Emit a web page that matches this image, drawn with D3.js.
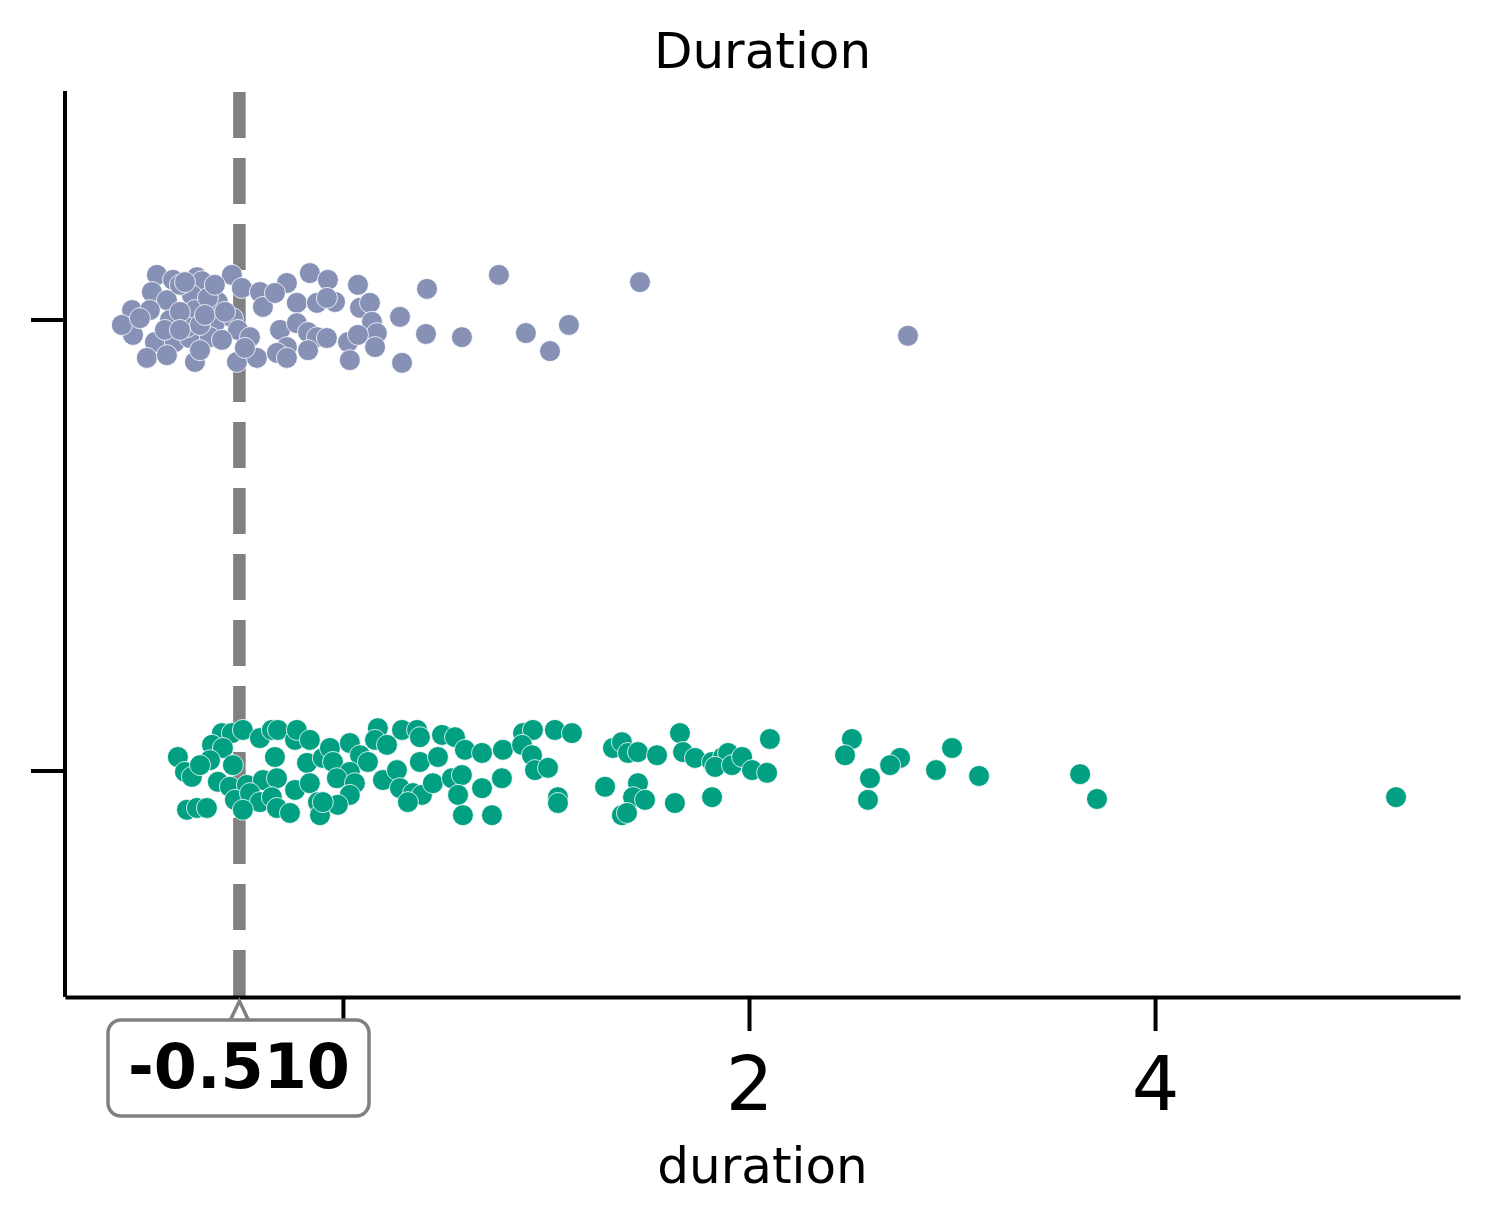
<!DOCTYPE html>
<html>
<head>
<meta charset="utf-8">
<script src="https://cdn.jsdelivr.net/npm/d3@7"></script>
<style>
  body { margin: 0; background: #fff; }
  svg { font-family: "DejaVu Sans", sans-serif; }
</style>
</head>
<body>
<script>
// categories on the y axis (no tick labels in the original)
const categories = ["A", "B"]
const colors = ["#8791b6", "#02a082"]

// group A: duration + vertical jitter (in category units)
const durationA = [
  -0.916, -0.837, -0.719, -0.695, -0.547, -0.941, -0.867, -0.744, -0.616, -0.498, -0.409, -0.394,
  -1.039, -0.951, -0.852, -0.729, -0.631, -0.542, -1.064, -1.034, -0.926, -0.828,
  -0.754, -0.655, -0.517, -0.458, -0.966, -0.867, -0.729, -0.522, -0.424, -0.768,
  -0.163, -0.074, 0.074, -0.276, -0.335, -0.227, -0.128, -0.039, -0.079, 0.084,
  0.133, 0.281, 0.143, -0.310, -0.227, -0.172, -0.128, -0.079, 0.167, 0.025,
  0.074, 0.158, -0.276, -0.325, -0.172, 0.034, 0.291, -0.276,
  0.414, 0.768, 1.463, 0.409, 0.586, 0.901, 1.113, 1.020, 2.783,
  -1.089, -0.877, -0.704, -0.596, -0.803, -0.665, -0.803,
  -1.000, -0.680, -0.778, -0.631, -0.581, -0.483, -0.803, -0.704
]
const jitterA = [
  -0.100, -0.089, -0.095, -0.086, -0.100, -0.062, -0.044, -0.055, -0.040, -0.071, -0.062, -0.029,
  -0.022, -0.022, 0.000, -0.022, 0.007, -0.004, 0.016, 0.033, 0.049, 0.049,
  0.040, 0.038, 0.022, 0.038, 0.084, 0.078, 0.093, 0.093, 0.084, 0.016,
  -0.104, -0.089, -0.078, -0.082, -0.060, -0.038, -0.038, -0.040, -0.049, -0.027,
  -0.038, -0.007, 0.004, 0.022, 0.007, 0.027, 0.038, 0.040, 0.029, 0.049,
  0.033, 0.060, 0.060, 0.073, 0.067, 0.089, 0.095, 0.084,
  -0.069, -0.100, -0.084, 0.031, 0.038, 0.029, 0.011, 0.069, 0.035,
  0.011, 0.022, 0.011, 0.044, -0.018, -0.049, -0.078,
  -0.004, -0.011, -0.084, -0.078, -0.018, 0.062, 0.022, 0.067
]

// group B
const durationB = [
  -0.813, -0.778, -0.744, -0.768, -0.719, -0.670, -0.596, -0.547, -0.493, -0.409,
  -0.350, -0.320, -0.236, -0.227, -0.163, -0.645, -0.591, -0.655, -0.542, -0.704,
  -0.616, -0.557, -0.473, -0.394, -0.325, -0.335, -0.177, -0.099, -0.236, -0.163,
  -0.532, -0.458, -0.409, -0.350, -0.493, -0.325, -0.261, -0.123, -0.113, 0.172,
  0.158, 0.217, 0.291, 0.365, 0.379, 0.488, 0.552, 0.601, 0.685, -0.064,
  0.034, -0.049, 0.084, 0.123, 0.034, -0.030, 0.059, 0.197, 0.266, 0.379,
  0.468, 0.281, 0.345, 0.389, 0.443, 0.537, 0.586, 0.567, 0.685, 0.320,
  0.034, -0.025, -0.099, 0.591, 0.788, 0.887, 0.936, 1.044, 1.128, 0.882,
  0.931, 0.946, 1.010, 0.783, 0.734, 1.059, 1.059, 1.330, 1.374, 1.404,
  1.453, 1.547, 1.291, 1.453, 1.429, 1.488, 1.374, 1.399, 1.660, 1.675,
  1.734, 1.818, 1.872, 1.897, 1.833, 1.916, 1.966, 2.015, 2.089, 2.103,
  1.635, 1.818, 2.507, 2.473, 2.596, 2.586, 2.744, 2.695, 3.000, 2.921,
  3.133, 3.631, 3.714, 5.187
]
const jitterB = [
  -0.031, 0.002, 0.013, 0.086, 0.082, 0.082, -0.084, -0.084, -0.091, -0.073,
  -0.091, -0.091, -0.069, -0.091, -0.069, -0.058, -0.051, -0.024, -0.013, -0.013,
  0.024, 0.035, 0.031, 0.020, 0.016, -0.031, -0.018, -0.029, 0.042, 0.027,
  0.064, 0.049, 0.069, 0.058, 0.086, 0.082, 0.093, 0.069, 0.098, -0.095,
  -0.069, -0.058, -0.091, -0.091, -0.075, -0.080, -0.075, -0.047, -0.040, -0.051,
  -0.062, -0.020, -0.035, -0.020, 0.002, 0.016, 0.027, 0.020, -0.002, -0.020,
  -0.031, 0.038, 0.049, 0.053, 0.027, 0.016, 0.009, 0.053, 0.038, 0.069,
  0.053, 0.075, 0.069, 0.098, -0.047, -0.084, -0.091, -0.091, -0.084, -0.058,
  -0.035, -0.002, -0.007, 0.016, 0.098, 0.058, 0.071, -0.051, -0.064, -0.040,
  -0.042, -0.035, 0.035, 0.027, 0.058, 0.064, 0.098, 0.093, -0.084, -0.042,
  -0.029, -0.020, -0.031, -0.040, -0.009, -0.013, -0.031, -0.002, 0.004, -0.071,
  0.071, 0.058, -0.071, -0.035, 0.016, 0.064, -0.029, -0.013, -0.051, -0.002,
  0.011, 0.007, 0.062, 0.058
]

const xTicks = [0, 2, 4]
const threshold = -0.510

const W = 1489, H = 1223
const margin = { left: 65, right: 1460, top: 91, bottom: 997 }

const svg = d3.select("body").append("svg")
  .attr("width", W)
  .attr("height", H)

let x = d3.scaleLinear()
  .domain([-1.369, 5.502])
  .range([margin.left, margin.right])

let y = d3.scaleBand()
  .domain(categories)
  .range([94.5, 996.5])
  .padding(0)

const cy = c => y(c) + y.bandwidth() / 2

// threshold line (under the points)
svg.append("line")
  .attr("x1", x(threshold)).attr("x2", x(threshold))
  .attr("y1", 92).attr("y2", margin.bottom)
  .attr("stroke", "#808080")
  .attr("stroke-width", 12.5)
  .attr("stroke-dasharray", "46,20")

// points
const groups = [
  { cat: categories[0], xs: durationA, js: jitterA, color: colors[0] },
  { cat: categories[1], xs: durationB, js: jitterB, color: colors[1] }
]
groups.forEach(g => {
  const pts = g.xs.map((d, i) => ({ d: d, j: g.js[i] }))
  svg.append("g").selectAll("circle")
    .data(pts)
    .join("circle")
    .attr("cx", p => x(p.d))
    .attr("cy", p => cy(g.cat) + p.j * y.bandwidth())
    .attr("r", 10.5)
    .attr("fill", g.color)
    .attr("stroke", "#fff")
    .attr("stroke-width", 0.8)
})

// x axis (the "0" label sits under the annotation box, so it is left blank)
const xAxis = svg.append("g")
  .attr("transform", "translate(0," + margin.bottom + ")")
  .call(d3.axisBottom(x).tickValues(xTicks).tickSize(34).tickSizeOuter(0).tickPadding(26)
    .tickFormat(d => d === 0 ? "" : d3.format("d")(d)))
xAxis.select(".domain").attr("stroke", "#000").attr("stroke-width", 4)
xAxis.selectAll(".tick line").attr("stroke", "#000").attr("stroke-width", 4)
xAxis.selectAll(".tick text")
  .attr("font-family", "DejaVu Sans")
  .attr("font-size", 75)
  .attr("fill", "#000")

// y axis
const yAxis = svg.append("g")
  .attr("transform", "translate(" + margin.left + ",0)")
  .call(d3.axisLeft(y).tickSize(34).tickSizeOuter(0).tickFormat(""))
yAxis.select(".domain")
  .attr("d", `M0,${margin.top}V${margin.bottom}`)
  .attr("stroke", "#000").attr("stroke-width", 4)
yAxis.selectAll(".tick line").attr("stroke", "#000").attr("stroke-width", 4)

// title and label
svg.append("text")
  .attr("x", (margin.left + margin.right) / 2).attr("y", 68)
  .attr("text-anchor", "middle")
  .attr("font-size", 50)
  .text("Duration")

svg.append("text")
  .attr("x", (margin.left + margin.right) / 2).attr("y", 1183)
  .attr("text-anchor", "middle")
  .attr("font-size", 50)
  .text("duration")

// annotation box for the threshold
const tx = x(threshold)
const ann = svg.append("g")
ann.append("path")
  .attr("d", `M${tx - 9},1020 L${tx},1001 L${tx + 9},1020`)
  .attr("fill", "none")
  .attr("stroke", "#808080")
  .attr("stroke-width", 3.5)
ann.append("rect")
  .attr("x", 108).attr("y", 1020)
  .attr("width", 261).attr("height", 96)
  .attr("rx", 13)
  .attr("fill", "#fff")
  .attr("stroke", "#808080")
  .attr("stroke-width", 3.5)
ann.append("text")
  .attr("x", 239).attr("y", 1088)
  .attr("text-anchor", "middle")
  .attr("font-size", 62)
  .attr("font-weight", "bold")
  .text(threshold.toFixed(3))
</script>
</body>
</html>
